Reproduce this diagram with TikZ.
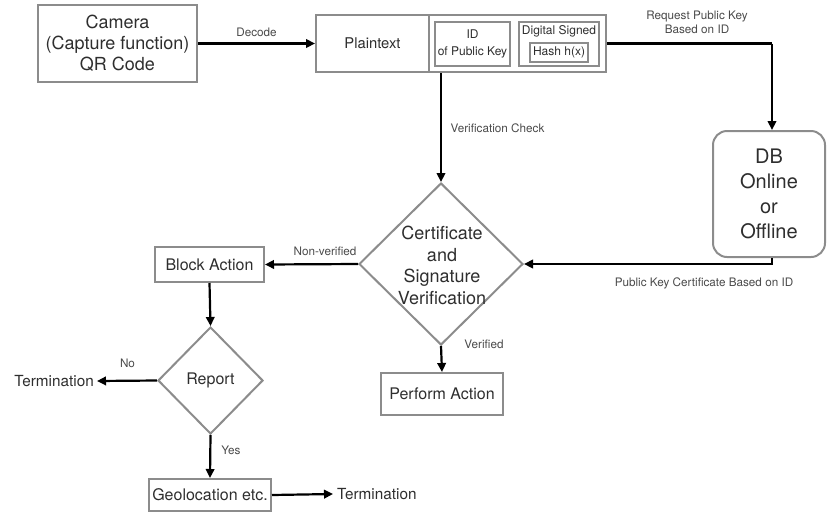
\documentclass[tikz,border=0pt]{standalone}
\usepackage{fontspec}
\setmainfont{TeX Gyre Heros}
\usetikzlibrary{shapes.geometric,arrows.meta,calc}
\definecolor{boxgray}{HTML}{8C8C8C}
\definecolor{txt}{HTML}{2E2E2E}
\definecolor{lbl}{HTML}{4A4A4A}
\begin{document}
\begin{tikzpicture}[x=1pt,y=-1pt,
  box/.style={draw=boxgray,line width=2pt,inner sep=0pt,text=txt,align=center},
  thinbox/.style={draw=boxgray,line width=1.5pt,inner sep=0pt,text=txt,align=center},
  dia/.style={draw=boxgray,line width=2pt,diamond,aspect=1,inner sep=0pt,text=txt,align=center},
  conn/.style={line width=2.2pt,-{Triangle[length=9pt,width=8.5pt]}},
  wire/.style={line width=2.2pt},
  lab/.style={inner sep=0pt,text=lbl,font=\fontsize{11.7}{14}\selectfont,align=center},
  plain/.style={inner sep=0pt,text=txt,align=center}]
\useasboundingbox (0,0) rectangle (827,512);

% top row
\node[box,minimum width=159,minimum height=77,font=\fontsize{18}{21}\selectfont] (cam) at (117.5,43.5) {Camera\\(Capture function)\\QR Code};
\node[box,minimum width=290,minimum height=57] (pt) at (461,43.5) {};
\node[plain,minimum width=113,minimum height=57,font=\fontsize{14.8}{17}\selectfont] (ptxt) at (372.5,43.5) {Plaintext};
\draw[draw=boxgray,line width=1.5pt] (ptxt.north east) -- (ptxt.south east);
\node[thinbox,minimum width=75,minimum height=44,font=\fontsize{12}{17}\selectfont] (id) at (472.5,44) {ID\\of Public Key};
\node[thinbox,minimum width=80,minimum height=44] (ds) at (559,44) {};
\node[plain,font=\fontsize{12}{14}\selectfont] (dstxt) at (559,31.5) {Digital Signed};
\node[thinbox,minimum width=58,minimum height=19,font=\fontsize{12}{14}\selectfont] (hash) at (559,52.5) {Hash h(x)};

% DB
\node[box,rounded corners=14pt,minimum width=112,minimum height=126,font=\fontsize{20}{25}\selectfont] (db) at (769,194) {DB\\Online\\or\\Offline};

% central decision
\node[dia,minimum width=164,minimum height=162] (cert) at (441,264) {};
\node[plain,font=\fontsize{18}{21.7}\selectfont] (certtxt) at (442,265.5) {Certificate\\and\\Signature\\Verification};

% left branch
\node[box,minimum width=109,minimum height=35,font=\fontsize{16}{19}\selectfont] (block) at (209.5,264.5) {Block Action};
\node[dia,minimum width=105,minimum height=107,font=\fontsize{16}{19}\selectfont] (report) at (210.5,380.5) {Report};
\node[box,minimum width=122,minimum height=32,font=\fontsize{16}{19}\selectfont] (geo) at (210,495) {Geolocation etc.};
\node[plain,inner xsep=3pt,anchor=east,font=\fontsize{15.3}{18}\selectfont] (term1) at (97,381) {Termination};
\node[plain,inner xsep=4pt,anchor=west,font=\fontsize{15.3}{18}\selectfont] (term2) at (333,494) {Termination};

% right branch
\node[box,minimum width=122,minimum height=42,font=\fontsize{16}{19}\selectfont] (perform) at (442,394) {Perform Action};

% connectors
\coordinate (r1) at (772,43.5);
\draw[conn] (cam.east) -- (pt.west);
\draw[wire] (pt.east) -- (r1);
\draw[conn] (r1) -- (r1 |- db.north);
\draw[conn] (cert.north |- pt.south) -- (cert.north);
\draw[conn] (r1 |- db.south) -- (r1 |- cert.east) -- (cert.east);
\draw[conn] (cert.west) -- (block.east);
\draw[conn] (block.south) -- (report.north);
\draw[conn] (report.west) -- (term1.east);
\draw[conn] (report.south) -- (geo.north);
\draw[conn] (geo.east) -- (term2.west);
\draw[conn] (cert.south) -- (perform.north);

% labels
\node[lab] (lDecode) at (256.5,32) {Decode};
\node[lab] (lReq) at (697,22) {Request Public Key\\Based on ID};
\node[lab] (lVer) at (497.5,128) {Verification Check};
\node[lab] (lPub) at (704,283) {Public Key Certificate Based on ID};
\node[lab] (lNon) at (325,251) {Non-verified};
\node[lab] (lVd) at (484,344) {Verified};
\node[lab] (lNo) at (127.5,363) {No};
\node[lab] (lYes) at (231,450) {Yes};
\end{tikzpicture}
\end{document}
